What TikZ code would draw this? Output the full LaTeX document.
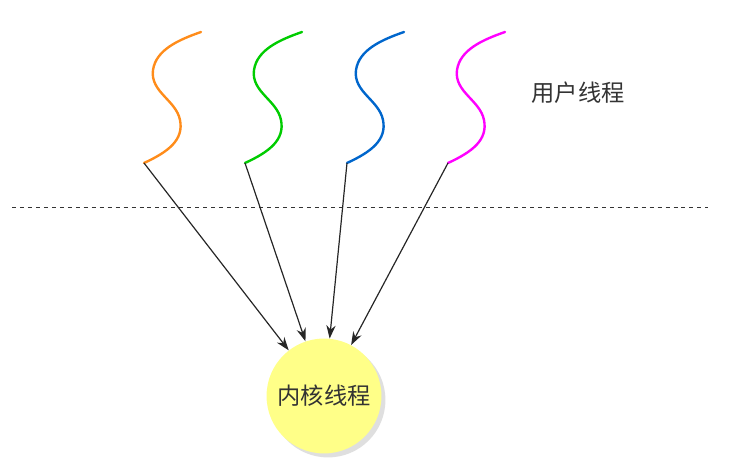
\documentclass[tikz,border=0pt]{standalone}
\usepackage{fontspec}
\usepackage{tikz}
\usetikzlibrary{arrows.meta,positioning,shadows}
\newfontfamily\cjk{Noto Sans CJK SC}
\definecolor{thorange}{RGB}{255,140,26}
\definecolor{thgreen}{RGB}{0,204,0}
\definecolor{thblue}{RGB}{0,102,204}
\definecolor{thmagenta}{RGB}{255,0,255}
\definecolor{kyellow}{RGB}{255,255,136}

\begin{document}
\begin{tikzpicture}[x=0.02646cm,y=-0.02646cm,
    wave/.style={line width=1.8pt, line cap=round},
    arr/.style={-{Stealth[length=10pt,width=7pt]}, line width=0.9pt, black!85},
    label/.style={font=\cjk\fontsize{17.5}{20}\selectfont, text=black!80}]
    \useasboundingbox (0,0) rectangle (744,468);
    % user threads
    \foreach \c/\dx [count=\i] in {thorange/0, thgreen/101, thblue/203, thmagenta/304} {
        \draw[wave, \c] (144+\dx,163)
            .. controls (168+\dx,152) and (184+\dx,140) .. (180+\dx,120)
            .. controls (176+\dx,100) and (150+\dx,92) .. (153+\dx,70)
            .. controls (156+\dx,50) and (178+\dx,40) .. (201+\dx,32);
        \coordinate (u\i) at (144+\dx,163);
    }
    \node[label] (ut) at (578,93) {用户线程};
    % boundary
    \draw[dashed, line width=0.6pt, black!80] (12,207) -- (708,207);
    % kernel thread
    \node[circle, minimum size=3.04cm, fill=kyellow,
          drop shadow={shadow xshift=3pt, shadow yshift=-3pt, fill=black!25},
          label, inner sep=0pt] (kt) at (324,396) {内核线程};
    \foreach \i in {1,...,4}
        \draw[arr] (u\i) -- (kt);
\end{tikzpicture}
\end{document}
